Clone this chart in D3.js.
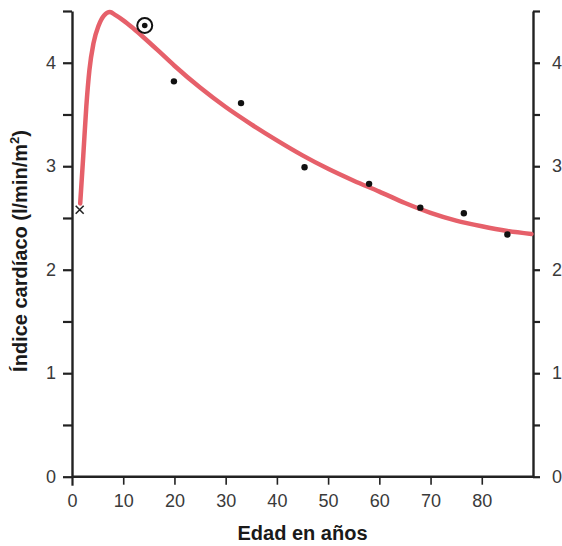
<!DOCTYPE html>
<html><head><meta charset="utf-8">
<script src="https://cdn.jsdelivr.net/npm/d3@7"></script>
<style>
body{margin:0;background:#fff;}
svg{display:block;}
</style></head>
<body>
<svg id="chart" width="562" height="546"></svg>
<script>
// Data
const curveAge   = [1.6, 2.2, 2.8, 3.4, 4.2, 5.2, 6.3, 7.4, 8.5, 10, 12, 14, 17, 20, 25, 30, 35, 40, 45, 50, 55, 60, 65, 70, 75, 80, 85, 89.7];
const curveIndex = [2.64, 3.10, 3.58, 3.93, 4.19, 4.36, 4.46, 4.49, 4.46, 4.41, 4.33, 4.244, 4.109, 3.971, 3.76, 3.572, 3.405, 3.25, 3.105, 2.975, 2.86, 2.755, 2.645, 2.55, 2.475, 2.42, 2.375, 2.345];
const dotAge     = [19.9, 33.0, 45.4, 58.0, 68.0, 76.5, 85.0];
const dotIndex   = [3.82, 3.61, 2.99, 2.83, 2.60, 2.545, 2.34];
const circledAge = [14.2];
const circledIndex = [4.36];
const crossAge   = [1.5];
const crossIndex = [2.58];
const xTicks = [0, 10, 20, 30, 40, 50, 60, 70, 80];
const yTicks = [0, 0.5, 1, 1.5, 2, 2.5, 3, 3.5, 4, 4.5];
const yLabelTicks = [0, 1, 2, 3, 4];
const xTitle = "Edad en años";
const yTitle = "Índice cardíaco (l/min/m";

const svg = d3.select("#chart");
const x = d3.scaleLinear().domain([0, 90]).range([72, 533]);
const y = d3.scaleLinear().domain([0, 4.5]).range([476.7, 11]);

const axisColor = "#222";
const labelColor = "#3a3a3a";
const font = "'Liberation Sans', Arial, Helvetica, sans-serif";

function styleAxis(g){
  g.selectAll(".domain").attr("stroke", axisColor).attr("stroke-width", 2.4);
  g.selectAll(".tick line").attr("stroke", axisColor).attr("stroke-width", 2.2);
  g.selectAll(".tick text").attr("fill", labelColor).style("font-family", font).style("font-size", "18px");
}
const fmt = d => yLabelTicks.includes(d) ? d3.format("d")(d) : "";

// Left axis
const gL = svg.append("g").attr("transform", `translate(${x(0)},0)`)
  .call(d3.axisLeft(y).tickValues(yTicks).tickSize(9).tickSizeOuter(0).tickPadding(7).tickFormat(fmt));
styleAxis(gL);
// Right axis
const gR = svg.append("g").attr("transform", `translate(${x(90)},0)`)
  .call(d3.axisRight(y).tickValues(yTicks).tickSize(7).tickSizeOuter(0).tickPadding(12).tickFormat(fmt));
styleAxis(gR);
// Bottom axis
const gB = svg.append("g").attr("transform", `translate(0,${y(0)})`)
  .call(d3.axisBottom(x).tickValues(xTicks).tickSize(9).tickSizeOuter(0).tickPadding(9).tickFormat(d3.format("d")));
styleAxis(gB);
gB.selectAll(".tick line").filter(d => d > 0).attr("stroke-width", 1.6).attr("y2", 8);
gB.select(".domain").attr("d", `M${x(0)},0H${x(90)}`);

// Curve
const curveData = curveAge.map((a, i) => [a, curveIndex[i]]);
svg.append("path")
  .datum(curveData)
  .attr("fill", "none")
  .attr("stroke", "#e6606a")
  .attr("stroke-width", 4.5)
  .attr("stroke-linecap", "round")
  .attr("stroke-linejoin", "round")
  .attr("d", d3.line().x(d => x(d[0])).y(d => y(d[1])).curve(d3.curveMonotoneX));

// Dots
svg.append("g").selectAll("circle")
  .data(dotAge.map((a, i) => [a, dotIndex[i]]))
  .join("circle")
  .attr("cx", d => x(d[0])).attr("cy", d => y(d[1])).attr("r", 3.2).attr("fill", "#111");

// Circled dot
const circ = svg.append("g").selectAll("g")
  .data(circledAge.map((a, i) => [a, circledIndex[i]]))
  .join("g").attr("transform", d => `translate(${x(d[0])},${y(d[1])})`);
circ.append("circle").attr("r", 7.5).attr("fill", "none").attr("stroke", "#111").attr("stroke-width", 2);
circ.append("circle").attr("r", 2.8).attr("fill", "#111");

// Cross marker
const cr = svg.append("g").selectAll("g")
  .data(crossAge.map((a, i) => [a, crossIndex[i]]))
  .join("g").attr("transform", d => `translate(${x(d[0])},${y(d[1])})`);
cr.append("path").attr("d", "M-4,-4L4,4M-4,4L4,-4").attr("stroke", "#222").attr("stroke-width", 1.6);

// Titles
svg.append("text")
  .attr("x", 302.5).attr("y", 540)
  .attr("text-anchor", "middle")
  .style("font-family", font).style("font-size", "20px").style("font-weight", "bold")
  .attr("fill", "#1a1a1a")
  .text(xTitle);

const yt = svg.append("text")
  .attr("transform", "translate(27,251) rotate(-90)")
  .attr("text-anchor", "middle")
  .style("font-family", font).style("font-size", "20px").style("font-weight", "bold")
  .attr("fill", "#1a1a1a");
yt.append("tspan").text(yTitle);
yt.append("tspan").attr("dy", -8).style("font-size", "13px").text("2");
yt.append("tspan").attr("dy", 8).text(")");
</script>
</body></html>
